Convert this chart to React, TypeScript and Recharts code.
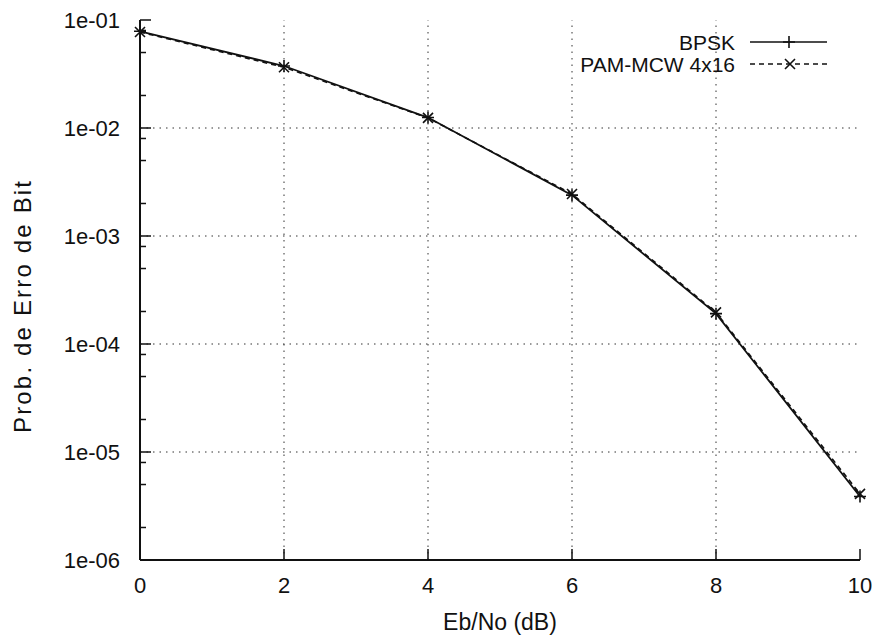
import { Label, Line, LineChart, ReferenceLine, XAxis, YAxis } from 'recharts'

const ebNo = [0, 2, 4, 6, 8, 10]
const bpsk = [0.0786, 0.0375, 0.0125, 0.00239, 0.000191, 3.87e-6]
const pamMcw = [0.0775, 0.0365, 0.0124, 0.00245, 0.000196, 4.1e-6]

const xTicks = [0, 2, 4, 6, 8, 10]
const decades = [1e-6, 1e-5, 1e-4, 1e-3, 1e-2, 1e-1]
const decadeLabels = ['1e-06', '1e-05', '1e-04', '1e-03', '1e-02', '1e-01']
const minorSteps = [2, 5, 8]

const FONT = '"Liberation Sans", Arial, Helvetica, sans-serif'
const INK = '#111'

const data = ebNo.map((x, i) => ({ x, bpsk: bpsk[i], pam: pamMcw[i] }))
const yTicks = decades.flatMap((d, i) =>
  i < decades.length - 1 ? [d, ...minorSteps.map((m) => m * d)] : [d]
)

function isMajor(v: number) {
  return decades.some((d) => Math.abs(v / d - 1) < 1e-6)
}

function PlusMark({ cx, cy }: { cx?: number; cy?: number }) {
  if (cx == null || cy == null) return null
  const r = 6
  return (
    <path d={`M${cx - r},${cy}H${cx + r}M${cx},${cy - r}V${cy + r}`} stroke={INK} strokeWidth={1.6} fill="none" />
  )
}

function CrossMark({ cx, cy }: { cx?: number; cy?: number }) {
  if (cx == null || cy == null) return null
  const r = 5
  return (
    <path
      d={`M${cx - r},${cy - r}L${cx + r},${cy + r}M${cx - r},${cy + r}L${cx + r},${cy - r}`}
      stroke={INK}
      strokeWidth={1.6}
      fill="none"
    />
  )
}

function LeftTick({ x, y, payload }: any) {
  const major = isMajor(payload.value)
  const idx = decades.findIndex((d) => Math.abs(payload.value / d - 1) < 1e-6)
  return (
    <g>
      <line x1={x} x2={x + (major ? 11 : 6)} y1={y} y2={y} stroke={INK} strokeWidth={1.5} />
      {major && (
        <text x={x - 20} y={y} dy="0.36em" textAnchor="end" fontSize={22} fontFamily={FONT} fill={INK}>
          {decadeLabels[idx]}
        </text>
      )}
    </g>
  )
}

function RightTick({ x, y, payload }: any) {
  const major = isMajor(payload.value)
  return <line x1={x} x2={x - (major ? 11 : 6)} y1={y} y2={y} stroke={INK} strokeWidth={1.5} />
}

function BottomTick({ x, y, payload }: any) {
  return (
    <g>
      <line x1={x} x2={x} y1={y} y2={y - 11} stroke={INK} strokeWidth={1.5} />
      <text x={x} y={y + 33} textAnchor="middle" fontSize={22} fontFamily={FONT} fill={INK}>
        {payload.value}
      </text>
    </g>
  )
}

function TopTick({ x, y }: any) {
  return <line x1={x} x2={x} y1={y} y2={y + 11} stroke={INK} strokeWidth={1.5} />
}

function XTitle({ viewBox }: any) {
  return (
    <text x={viewBox.x + viewBox.width / 2} y={viewBox.y + 70} textAnchor="middle" fontSize={23} fontFamily={FONT} fill={INK}>
      Eb/No (dB)
    </text>
  )
}

function YTitle({ viewBox }: any) {
  const cx = 31
  const cy = viewBox.y + viewBox.height / 2 + 17
  return (
    <text
      x={cx}
      y={cy}
      transform={`rotate(-90 ${cx} ${cy})`}
      textAnchor="middle"
      fontSize={24}
      fontFamily={FONT}
      fill={INK}
      textLength={252}
      lengthAdjust="spacing"
    >
      Prob. de Erro de Bit
    </text>
  )
}

function LegendBox() {
  return (
    <svg width={877} height={90} style={{ position: 'absolute', left: 0, top: 0, pointerEvents: 'none' }}>
      <g fontFamily={FONT} fontSize={21} fill={INK}>
        <text x={735} y={42} dy="0.36em" textAnchor="end">BPSK</text>
        <text x={735} y={64} dy="0.36em" textAnchor="end">PAM-MCW 4x16</text>
      </g>
      <line x1={750} x2={827} y1={42} y2={42} stroke={INK} strokeWidth={1.6} />
      <PlusMark cx={789} cy={42} />
      <line x1={750} x2={827} y1={64} y2={64} stroke={INK} strokeWidth={1.6} strokeDasharray="5 4" />
      <CrossMark cx={790} cy={64} />
    </svg>
  )
}

export default function App() {
  return (
    <div style={{ position: 'absolute', left: 0, top: 0, width: 877, height: 638, overflow: 'hidden', background: '#fff' }}>
      <style>{'html,body{margin:0;padding:0;overflow:hidden}'}</style>
      <LineChart width={877} height={638} data={data} margin={{ top: 20, right: 17, bottom: 0, left: 0 }}>
        <XAxis
          dataKey="x"
          type="number"
          domain={[0, 10]}
          ticks={xTicks}
          interval={0}
          height={78}
          tickSize={0}
          tickMargin={0}
          tickLine={false}
          tick={<BottomTick />}
          axisLine={{ stroke: INK, strokeWidth: 2 }}
        >
          <Label content={<XTitle />} />
        </XAxis>
        <XAxis
          xAxisId="top"
          orientation="top"
          dataKey="x"
          type="number"
          domain={[0, 10]}
          ticks={xTicks}
          interval={0}
          height={0}
          tickSize={0}
          tickMargin={0}
          tickLine={false}
          tick={<TopTick />}
          axisLine={{ stroke: INK, strokeWidth: 2 }}
        />
        <YAxis
          scale="log"
          type="number"
          domain={[1e-6, 1e-1]}
          allowDataOverflow
          ticks={yTicks}
          interval={0}
          width={140}
          tickSize={0}
          tickMargin={0}
          tickLine={false}
          tick={<LeftTick />}
          axisLine={{ stroke: INK, strokeWidth: 2 }}
        >
          <Label content={<YTitle />} />
        </YAxis>
        <YAxis
          yAxisId="right"
          orientation="right"
          scale="log"
          type="number"
          domain={[1e-6, 1e-1]}
          allowDataOverflow
          ticks={yTicks}
          interval={0}
          width={0}
          tickSize={0}
          tickMargin={0}
          tickLine={false}
          tick={<RightTick />}
          axisLine={{ stroke: INK, strokeWidth: 2 }}
        />
        {decades.slice(1, -1).map((d) => (
          <ReferenceLine key={`h${d}`} y={d} stroke="#333" strokeWidth={1} strokeDasharray="1.5 5" />
        ))}
        {xTicks.slice(1, -1).map((v) => (
          <ReferenceLine key={`v${v}`} x={v} stroke="#333" strokeWidth={1} strokeDasharray="1.5 5" />
        ))}
        <Line
          dataKey="bpsk"
          stroke={INK}
          strokeWidth={1.8}
          dot={<PlusMark />}
          activeDot={false}
          isAnimationActive={false}
        />
        <Line
          dataKey="pam"
          stroke={INK}
          strokeWidth={1.6}
          strokeDasharray="5 4"
          dot={<CrossMark />}
          activeDot={false}
          isAnimationActive={false}
        />
      </LineChart>
      <LegendBox />
    </div>
  )
}
